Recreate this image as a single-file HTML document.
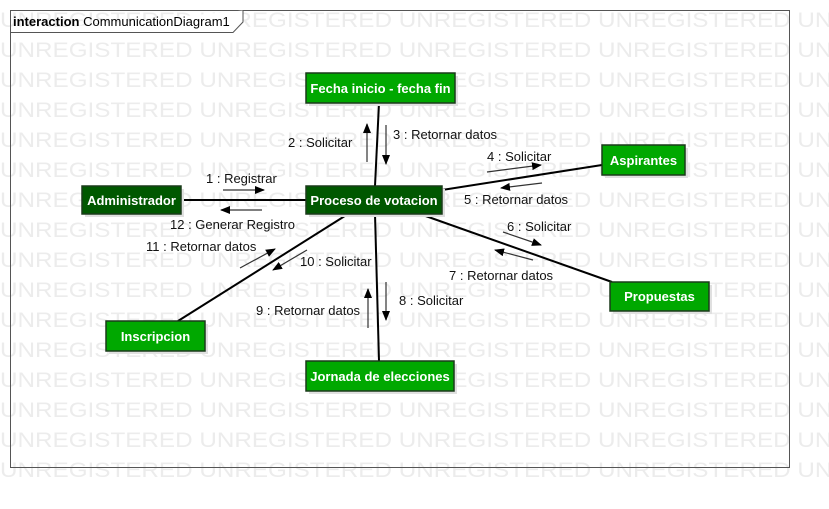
<!DOCTYPE html>
<html><head><meta charset="utf-8"><style>
html,body{margin:0;padding:0;background:#fff;}
svg{display:block;font-family:"Liberation Sans",Arial,sans-serif;}
</style></head><body>
<svg width="829" height="509" viewBox="0 0 829 509" xmlns="http://www.w3.org/2000/svg">
<defs><marker id="a" markerWidth="10" markerHeight="8" refX="9" refY="4" orient="auto" markerUnits="userSpaceOnUse"><path d="M0,0 L10,4 L0,8 z" fill="#000"/></marker></defs>
<g fill="#ececec" font-size="21">
<text x="0" y="27" textLength="990" lengthAdjust="spacingAndGlyphs">UNREGISTERED UNREGISTERED UNREGISTERED UNREGISTERED UNREGISTERED</text>
<text x="0" y="57" textLength="990" lengthAdjust="spacingAndGlyphs">UNREGISTERED UNREGISTERED UNREGISTERED UNREGISTERED UNREGISTERED</text>
<text x="0" y="87" textLength="990" lengthAdjust="spacingAndGlyphs">UNREGISTERED UNREGISTERED UNREGISTERED UNREGISTERED UNREGISTERED</text>
<text x="0" y="117" textLength="990" lengthAdjust="spacingAndGlyphs">UNREGISTERED UNREGISTERED UNREGISTERED UNREGISTERED UNREGISTERED</text>
<text x="0" y="147" textLength="990" lengthAdjust="spacingAndGlyphs">UNREGISTERED UNREGISTERED UNREGISTERED UNREGISTERED UNREGISTERED</text>
<text x="0" y="177" textLength="990" lengthAdjust="spacingAndGlyphs">UNREGISTERED UNREGISTERED UNREGISTERED UNREGISTERED UNREGISTERED</text>
<text x="0" y="207" textLength="990" lengthAdjust="spacingAndGlyphs">UNREGISTERED UNREGISTERED UNREGISTERED UNREGISTERED UNREGISTERED</text>
<text x="0" y="237" textLength="990" lengthAdjust="spacingAndGlyphs">UNREGISTERED UNREGISTERED UNREGISTERED UNREGISTERED UNREGISTERED</text>
<text x="0" y="267" textLength="990" lengthAdjust="spacingAndGlyphs">UNREGISTERED UNREGISTERED UNREGISTERED UNREGISTERED UNREGISTERED</text>
<text x="0" y="297" textLength="990" lengthAdjust="spacingAndGlyphs">UNREGISTERED UNREGISTERED UNREGISTERED UNREGISTERED UNREGISTERED</text>
<text x="0" y="327" textLength="990" lengthAdjust="spacingAndGlyphs">UNREGISTERED UNREGISTERED UNREGISTERED UNREGISTERED UNREGISTERED</text>
<text x="0" y="357" textLength="990" lengthAdjust="spacingAndGlyphs">UNREGISTERED UNREGISTERED UNREGISTERED UNREGISTERED UNREGISTERED</text>
<text x="0" y="387" textLength="990" lengthAdjust="spacingAndGlyphs">UNREGISTERED UNREGISTERED UNREGISTERED UNREGISTERED UNREGISTERED</text>
<text x="0" y="417" textLength="990" lengthAdjust="spacingAndGlyphs">UNREGISTERED UNREGISTERED UNREGISTERED UNREGISTERED UNREGISTERED</text>
<text x="0" y="447" textLength="990" lengthAdjust="spacingAndGlyphs">UNREGISTERED UNREGISTERED UNREGISTERED UNREGISTERED UNREGISTERED</text>
<text x="0" y="477" textLength="990" lengthAdjust="spacingAndGlyphs">UNREGISTERED UNREGISTERED UNREGISTERED UNREGISTERED UNREGISTERED</text>
</g>
<rect x="10.5" y="10.5" width="779" height="457" fill="none" stroke="#555" stroke-width="1"/>
<path d="M10.5,32.5 H233 L243,22 V10.5" fill="#fff" stroke="#555"/>
<text x="13" y="26" font-size="13" fill="#000"><tspan font-weight="bold">interaction</tspan> CommunicationDiagram1</text>
<g stroke="#000" stroke-width="2" fill="none">
<line x1="379" y1="103" x2="375" y2="186"/>
<line x1="181" y1="200" x2="306" y2="200"/>
<line x1="442" y1="190" x2="602" y2="165"/>
<line x1="420" y1="214" x2="612" y2="282"/>
<line x1="348" y1="214" x2="178" y2="321"/>
<line x1="375" y1="214" x2="379" y2="361"/>
</g>
<g stroke="#333" stroke-width="1.2" fill="none" marker-end="url(#a)">
<line x1="367" y1="162" x2="367" y2="124"/>
<line x1="386" y1="125" x2="386" y2="164"/>
<line x1="223" y1="190" x2="264" y2="190"/>
<line x1="262" y1="210" x2="221" y2="210"/>
<line x1="487" y1="172" x2="541" y2="165"/>
<line x1="542" y1="183" x2="501" y2="188"/>
<line x1="503" y1="232" x2="541" y2="245"/>
<line x1="533" y1="260" x2="495" y2="250"/>
<line x1="240" y1="268" x2="275" y2="249"/>
<line x1="307" y1="250" x2="273" y2="270"/>
<line x1="368" y1="328" x2="368" y2="289"/>
<line x1="386" y1="282" x2="386" y2="320"/>
</g>
<g font-size="13" fill="#111">
<text x="288" y="147">2 : Solicitar</text>
<text x="393" y="139">3 : Retornar datos</text>
<text x="206" y="183">1 : Registrar</text>
<text x="170" y="229">12 : Generar Registro</text>
<text x="146" y="251">11 : Retornar datos</text>
<text x="300" y="266">10 : Solicitar</text>
<text x="487" y="161">4 : Solicitar</text>
<text x="464" y="204">5 : Retornar datos</text>
<text x="507" y="231">6 : Solicitar</text>
<text x="449" y="280">7 : Retornar datos</text>
<text x="256" y="315">9 : Retornar datos</text>
<text x="399" y="305">8 : Solicitar</text>
</g>
<g fill="#e0e0e0">
<rect x="309" y="76" width="149" height="30"/><rect x="85" y="189" width="99" height="28"/>
<rect x="309" y="189" width="136" height="28"/><rect x="605" y="148" width="83" height="30"/>
<rect x="613" y="285" width="99" height="29"/><rect x="109" y="324" width="99" height="30"/>
<rect x="309" y="364" width="148" height="30"/>
</g>
<g stroke="#1a3a1a" stroke-width="1.5">
<rect x="306" y="73" width="149" height="30" fill="#00a800"/>
<rect x="82" y="186" width="99" height="28" fill="#005800"/>
<rect x="306" y="186" width="136" height="28" fill="#005800"/>
<rect x="602" y="145" width="83" height="30" fill="#00a800"/>
<rect x="610" y="282" width="99" height="29" fill="#00a800"/>
<rect x="106" y="321" width="99" height="30" fill="#00a800"/>
<rect x="306" y="361" width="148" height="30" fill="#00a800"/>
</g>
<g font-size="13" font-weight="bold" fill="#fff" text-anchor="middle">
<text x="380.5" y="93">Fecha inicio - fecha fin</text>
<text x="131.5" y="205">Administrador</text>
<text x="374" y="205">Proceso de votacion</text>
<text x="643.5" y="165">Aspirantes</text>
<text x="659.5" y="301">Propuestas</text>
<text x="155.5" y="341">Inscripcion</text>
<text x="380" y="381">Jornada de elecciones</text>
</g>
</svg>
</body></html>
